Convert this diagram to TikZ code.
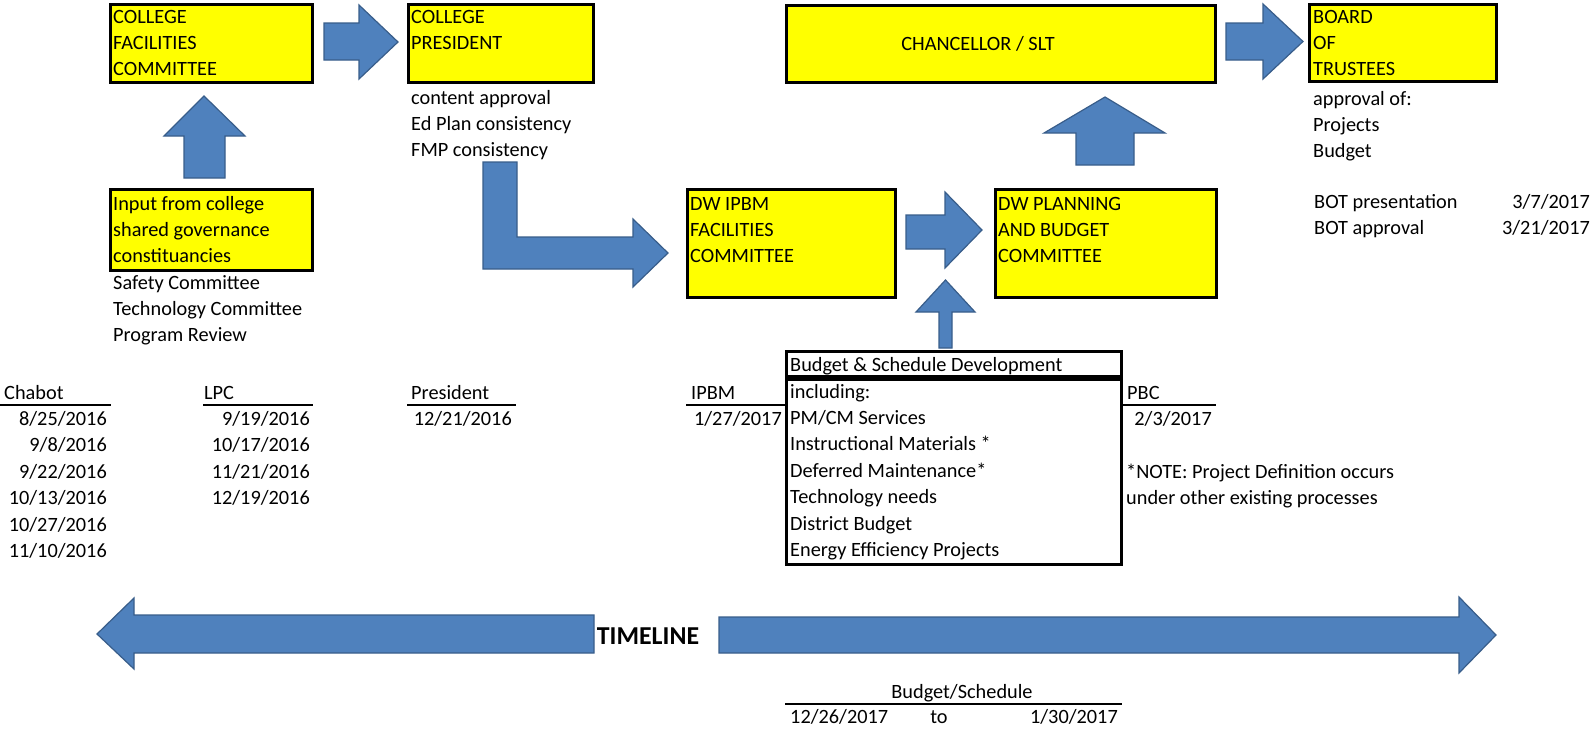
\documentclass[tikz,border=0pt]{standalone}
\usepackage{fontspec}
\setmainfont{Carlito}
\definecolor{boxyellow}{RGB}{255,255,0}
\definecolor{arrowblue}{RGB}{79,129,189}
\definecolor{arrowedge}{RGB}{56,93,138}
\tikzset{
    ybox/.style = {draw=black, fill=boxyellow, line width=3pt, rectangle, inner sep=0pt},
    wbox/.style = {draw=black, fill=white, line width=3pt, rectangle, inner sep=0pt},
    txt/.style = {font=\fontsize{20.3}{26.4}\selectfont, align=left, inner sep=0pt, anchor=base west},
    date/.style = {font=\fontsize{20.3}{26.4}\selectfont, align=right, inner sep=0pt, anchor=base east},
    rule/.style = {line width=2pt},
    blockarrow/.style = {fill=arrowblue, draw=arrowedge, line width=1.2pt},
}

\begin{document}
\begin{tikzpicture}[x=1pt, y=-1pt]
\useasboundingbox (0,0) rectangle (1592,728);

% committee boxes
\node[ybox, minimum width=202, minimum height=78] (cfc) at (211.5,43.5) {};
\node[ybox, minimum width=185, minimum height=78] (pres) at (501,43.5) {};
\node[ybox, minimum width=202, minimum height=81] (input) at (211.5,230) {};
\node[ybox, minimum width=429, minimum height=77] (chan) at (1001,44) {};
\node[ybox, minimum width=187, minimum height=77] (bot) at (1403,43) {};
\node[ybox, minimum width=208, minimum height=108] (ipbm) at (791.5,243.5) {};
\node[ybox, minimum width=221, minimum height=108] (pbc) at (1106,243.5) {};
\node[wbox, minimum width=335, minimum height=25] (bsd) at (954,364) {};
\node[wbox, minimum width=335, minimum height=185] (bsd-list) at (954,472) {};

% box texts (base = last line)
\node[txt] (cfc-txt) at ([xshift=4, yshift=-72.8]cfc.north west) {COLLEGE\\FACILITIES\\COMMITTEE};
\node[txt] (pres-txt) at ([xshift=4, yshift=-46.4]pres.north west) {COLLEGE\\PRESIDENT};
\node[txt] (input-txt) at ([xshift=4, yshift=-74.8]input.north west) {Input from college\\shared governance\\constituancies};
\node[txt, anchor=base] (chan-txt) at (978,50) {CHANCELLOR / SLT};
\node[txt] (bot-txt) at ([xshift=5, yshift=-72.8]bot.north west) {BOARD\\OF\\TRUSTEES};
\node[txt] (ipbm-txt) at ([xshift=4, yshift=-74.8]ipbm.north west) {DW IPBM\\FACILITIES\\COMMITTEE};
\node[txt] (pbc-txt) at ([xshift=4, yshift=-74.8]pbc.north west) {DW PLANNING\\AND BUDGET\\COMMITTEE};
\node[txt] (bsd-txt) at ([xshift=5, yshift=-21]bsd.north west) {Budget \& Schedule Development};
\node[txt] (bsd-items) at (790,556.4) {including:\\PM/CM Services\\Instructional Materials *\\Deferred Maintenance*\\Technology needs\\District Budget\\Energy Efficiency Projects};

% notes under the boxes
\node[txt] (pres-notes) at (411,156.8) {content approval\\Ed Plan consistency\\FMP consistency};
\node[txt] (input-notes) at (113,341.8) {Safety Committee\\Technology Committee\\Program Review};
\node[txt] (bot-notes) at (1313,157.8) {approval of:\\Projects\\Budget};
\node[txt] (bot-steps) at (1314,234.4) {BOT presentation\\BOT approval};
\node[date] (bot-dates) at (1590,234.4) {3/7/2017\\3/21/2017};
\node[txt] (note) at (1126,504.4) {*NOTE: Project Definition occurs\\under other existing processes};

% meeting dates
\node[txt] (chabot) at (4,399) {Chabot};
\node[date] (chabot-dates) at (107,557.5) {8/25/2016\\9/8/2016\\9/22/2016\\10/13/2016\\10/27/2016\\11/10/2016};
\node[txt] (lpc) at (204,399) {LPC};
\node[date] (lpc-dates) at (310,504.7) {9/19/2016\\10/17/2016\\11/21/2016\\12/19/2016};
\node[txt] (president) at (411,399) {President};
\node[date] (president-date) at (512,425.5) {12/21/2016};
\node[txt] (ipbm-hd) at (691,399) {IPBM};
\node[date] (ipbm-date) at (782,425.5) {1/27/2017};
\node[txt] (pbc-hd) at (1127,399) {PBC};
\node[date] (pbc-date) at (1212,425.5) {2/3/2017};
\draw[rule] (0,405) -- (111,405);
\draw[rule] (203,405) -- (313,405);
\draw[rule] (407,405) -- (516,405);
\draw[rule] (686,405) -- (bsd-list.west |- 0,405);
\draw[rule] (bsd-list.east |- 0,405) -- (1216,405);

% block arrows
\draw[blockarrow] (324,23) -- (359,23) -- (359,5) -- (398,42) -- (359,79) -- (359,60) -- (324,60) -- cycle;
\draw[blockarrow] (184,178) -- (184,136) -- (164,136) -- (204,96) -- (245,136) -- (225,136) -- (225,178) -- cycle;
\draw[blockarrow] (483,162) -- (517,162) -- (517,237) -- (633,237) -- (633,219) -- (668,253) -- (633,287) -- (633,269) -- (483,269) -- cycle;
\draw[blockarrow] (906,215) -- (945,215) -- (945,192) -- (982,230) -- (945,268) -- (945,249) -- (906,249) -- cycle;
\draw[blockarrow] (939,348) -- (939,312) -- (916,312) -- (945.5,280) -- (975,312) -- (952,312) -- (952,348) -- cycle;
\draw[blockarrow] (1076,165) -- (1076,133) -- (1044,133) -- (1105,97) -- (1165,133) -- (1134,133) -- (1134,165) -- cycle;
\draw[blockarrow] (1226,23) -- (1263,23) -- (1263,4) -- (1303,41.5) -- (1263,79) -- (1263,60) -- (1226,60) -- cycle;

% timeline
\draw[blockarrow] (594,615) -- (134,615) -- (134,598) -- (97,634) -- (134,669) -- (134,653) -- (594,653) -- cycle;
\draw[blockarrow] (719,617) -- (1459,617) -- (1459,597) -- (1496,635) -- (1459,673) -- (1459,653) -- (719,653) -- cycle;
\node[font=\fontsize{25.8}{30}\selectfont\bfseries, anchor=base, inner sep=0pt] (timeline) at (648,644) {TIMELINE};

\node[txt, anchor=base] (bs) at (962,698) {Budget/Schedule};
\draw[rule] (bsd-list.west |- 0,704) -- (1122,704);
\node[txt] (bs-from) at (790,723) {12/26/2017};
\node[txt, anchor=base] (bs-to) at (939,723) {to};
\node[date] (bs-until) at (1118,723) {1/30/2017};
\end{tikzpicture}
\end{document}
